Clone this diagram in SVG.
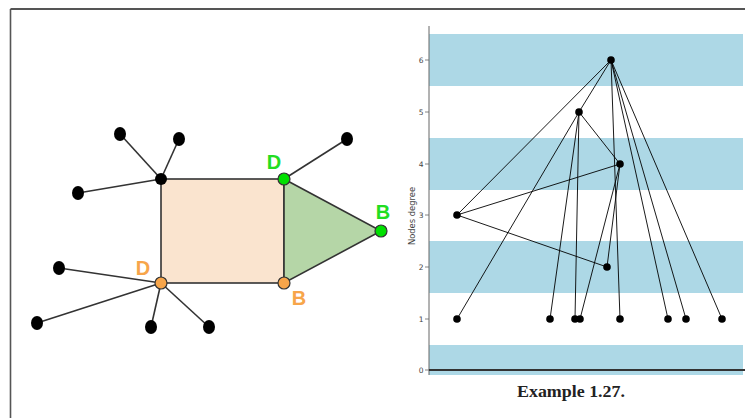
<svg xmlns="http://www.w3.org/2000/svg" width="745" height="418" viewBox="0 0 745 418">
<style>
.e{stroke:#333;stroke-width:1.6;fill:none}
.leaf{fill:#000}
.pe{stroke:#000;stroke-width:0.9;fill:none}
.pn{fill:#000}
.band{fill:#add8e6}
.tick{font-family:"DejaVu Sans",sans-serif;font-size:7.5px;fill:#444;text-anchor:end}
.lbl{font-family:"Liberation Sans",Arial,sans-serif;font-weight:bold;font-size:20px;text-anchor:middle}
</style>
<rect width="745" height="418" fill="#fff"/>
<g id="frame">
<line x1="10.5" y1="9" x2="745" y2="9" stroke="#555" stroke-width="2"/>
<line x1="10.5" y1="9" x2="10.5" y2="418" stroke="#555" stroke-width="1.6"/>
</g>
<g id="shapes">
<rect x="161" y="179" width="123" height="104" fill="#fae4cf" stroke="#333" stroke-width="1.6"/>
<polygon points="284,179 381,231 284,283" fill="#b5d6a7" stroke="#333" stroke-width="1.6"/>
</g>
<g id="connectors">
<line class="e" x1="161" y1="179" x2="120" y2="134"/>
<line class="e" x1="161" y1="179" x2="179" y2="139"/>
<line class="e" x1="161" y1="179" x2="78" y2="193"/>
<line class="e" x1="284" y1="179" x2="347" y2="139"/>
<line class="e" x1="161" y1="283" x2="59" y2="268"/>
<line class="e" x1="161" y1="283" x2="37" y2="323"/>
<line class="e" x1="161" y1="283" x2="151" y2="327"/>
<line class="e" x1="161" y1="283" x2="209" y2="327"/>
</g>
<g id="leaves">
<ellipse class="leaf" cx="120" cy="134" rx="6" ry="7"/>
<ellipse class="leaf" cx="179" cy="139" rx="6" ry="7"/>
<ellipse class="leaf" cx="78" cy="193" rx="6" ry="7"/>
<ellipse class="leaf" cx="347" cy="139" rx="6" ry="7"/>
<ellipse class="leaf" cx="59" cy="268" rx="6" ry="7"/>
<ellipse class="leaf" cx="37" cy="323" rx="6" ry="7"/>
<ellipse class="leaf" cx="151" cy="327" rx="6" ry="7"/>
<ellipse class="leaf" cx="209" cy="327" rx="6" ry="7"/>
</g>
<g id="hub"><circle cx="161" cy="179" r="6" fill="#000"/></g>
<g id="nodeD-green"><circle cx="284" cy="179" r="6" fill="#00e000" stroke="#333" stroke-width="1.2"/><text class="lbl" x="274" y="169" fill="#22dd22">D</text></g>
<g id="nodeB-green"><circle cx="381" cy="231" r="6" fill="#00e000" stroke="#333" stroke-width="1.2"/><text class="lbl" x="383" y="219" fill="#22dd22">B</text></g>
<g id="nodeD-orange"><circle cx="161" cy="283" r="6" fill="#f7a54a" stroke="#333" stroke-width="1.2"/><text class="lbl" x="143" y="275" fill="#f7a54a">D</text></g>
<g id="nodeB-orange"><circle cx="284" cy="283" r="6" fill="#f7a54a" stroke="#333" stroke-width="1.2"/><text class="lbl" x="299" y="305" fill="#f7a54a">B</text></g>

<g id="plot">
<rect class="band" x="429" y="34" width="314" height="52"/>
<rect class="band" x="429" y="138" width="314" height="52"/>
<rect class="band" x="429" y="241" width="314" height="52"/>
<rect class="band" x="429" y="345" width="314" height="30"/>
<line x1="429" y1="26" x2="429" y2="375" stroke="#666" stroke-width="1"/>
<line x1="429" y1="370" x2="745" y2="370" stroke="#333" stroke-width="1.8"/>
<g stroke="#666" stroke-width="0.8">
<line x1="425" y1="60" x2="429" y2="60"/><line x1="425" y1="112" x2="429" y2="112"/>
<line x1="425" y1="164" x2="429" y2="164"/><line x1="425" y1="215" x2="429" y2="215"/>
<line x1="425" y1="267" x2="429" y2="267"/><line x1="425" y1="319" x2="429" y2="319"/>
<line x1="425" y1="370" x2="429" y2="370"/>
</g>
<text class="tick" x="423.5" y="62.7">6</text>
<text class="tick" x="423.5" y="114.7">5</text>
<text class="tick" x="423.5" y="166.7">4</text>
<text class="tick" x="423.5" y="217.7">3</text>
<text class="tick" x="423.5" y="269.7">2</text>
<text class="tick" x="423.5" y="321.7">1</text>
<text class="tick" x="423.5" y="372.7">0</text>
<text font-family="DejaVu Sans,sans-serif" font-size="8.4" fill="#444" text-anchor="middle" transform="translate(415,216) rotate(-90)">Nodes degree</text>
</g>
<g id="plot-connectors">
<line class="pe" x1="611" y1="60" x2="579" y2="112"/>
<line class="pe" x1="611" y1="60" x2="457" y2="215"/>
<line class="pe" x1="611" y1="60" x2="620" y2="319"/>
<line class="pe" x1="611" y1="60" x2="668" y2="319"/>
<line class="pe" x1="611" y1="60" x2="686" y2="319"/>
<line class="pe" x1="611" y1="60" x2="722" y2="319"/>
<line class="pe" x1="579" y1="112" x2="620" y2="164"/>
<line class="pe" x1="579" y1="112" x2="457" y2="319"/>
<line class="pe" x1="579" y1="112" x2="550" y2="319"/>
<line class="pe" x1="579" y1="112" x2="575" y2="319"/>
<line class="pe" x1="620" y1="164" x2="457" y2="215"/>
<line class="pe" x1="620" y1="164" x2="580" y2="319"/>
<line class="pe" x1="620" y1="164" x2="607" y2="267"/>
<line class="pe" x1="457" y1="215" x2="607" y2="267"/>
</g>
<g id="plot-nodes">
<circle class="pn" cx="611" cy="60" r="3.8"/>
<circle class="pn" cx="579" cy="112" r="3.8"/>
<circle class="pn" cx="620" cy="164" r="3.8"/>
<circle class="pn" cx="457" cy="215" r="3.8"/>
<circle class="pn" cx="607" cy="267" r="3.8"/>
<circle class="pn" cx="457" cy="319" r="3.8"/>
<circle class="pn" cx="550" cy="319" r="3.8"/>
<circle class="pn" cx="575" cy="319" r="3.8"/>
<circle class="pn" cx="580" cy="319" r="3.8"/>
<circle class="pn" cx="620" cy="319" r="3.8"/>
<circle class="pn" cx="668" cy="319" r="3.8"/>
<circle class="pn" cx="686" cy="319" r="3.8"/>
<circle class="pn" cx="722" cy="319" r="3.8"/>
</g>
<g id="caption">
<text x="571" y="397" font-family="Liberation Serif,serif" font-weight="bold" font-size="16.5" fill="#222" text-anchor="middle" textLength="108" lengthAdjust="spacingAndGlyphs">Example 1.27.</text>
</g>
</svg>
